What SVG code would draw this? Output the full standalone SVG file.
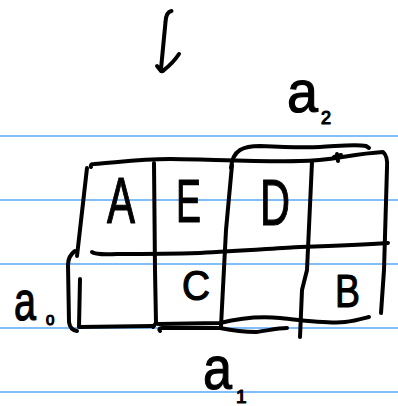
<svg xmlns="http://www.w3.org/2000/svg" width="398" height="406" viewBox="0 0 398 406">
<style>
.rule{stroke:#55a8f8;stroke-width:1.6}
.ink{fill:none;stroke:#000;stroke-width:4;stroke-linecap:round;stroke-linejoin:round}
.t{font-family:"Liberation Sans",Arial,sans-serif;fill:#000;stroke:#000;stroke-width:1.2;stroke-linejoin:round}
</style>
<rect width="398" height="406" fill="#fff"/>
<g id="paper">
<line class="rule" x1="0" y1="136" x2="398" y2="136"/>
<line class="rule" x1="0" y1="200" x2="398" y2="200"/>
<line class="rule" x1="0" y1="264" x2="398" y2="264"/>
<line class="rule" x1="0" y1="328" x2="398" y2="328"/>
<line class="rule" x1="0" y1="392" x2="398" y2="392"/>
</g>
<g id="arrow">
<path class="ink" d="M171.5,11 Q166,12 165.5,22 L161,69 Q161,73 164,70 Q173,63 179,54 M157,66 L161,71"/>
</g>
<g id="grid">
<path class="ink" d="M91,167 Q90,164 94,164 C120,162 140,159 170,159 C200,159 260,162 300,161 C330,161 350,154 383,152 Q388,156 387,168 L384,270 L381,313"/>
<path class="ink" d="M87,168 L77,256"/>
<path class="ink" d="M80,279 L79,327 L153,326"/>
<path class="ink" d="M154,163 L155,270 L156,323 L153,327"/>
<path class="ink" d="M232,165 L226,230 L221,326"/>
<path class="ink" d="M312,162 L307,270 L302,290 L300,337"/>
<path class="ink" d="M92,252 Q95,255 117,254 C140,254 166,254 200,253 C240,251 280,248 300,247 C330,246 360,245 388,243"/>
<path class="ink" d="M158,324 L220,323 C240,318 260,316 280,318 C300,320 330,324 345,322 C355,321 365,318 369,317"/>
</g>
<g id="brackets">
<path class="ink" d="M231,168 Q232,155 240,150 C245,147 250,146 260,146 C280,147 300,148 320,147 C340,146 355,144 366,146 L369,148"/>
<path class="ink" d="M334,157 L341,155 M337,154 L338,161"/>
<path class="ink" d="M160,331 Q158,328 162,328 L220,328 C230,330 245,332 256,332 C265,331 278,328 287,328"/>
<path class="ink" d="M75,251 Q68,256 68,265 L69,322 Q70,330 77,331"/>
</g>
<g id="cells">
<text id="cellA" class="t" x="107" y="223" font-size="64" textLength="28" lengthAdjust="spacingAndGlyphs">A</text>
<text id="cellE" class="t" x="176" y="222" font-size="62" textLength="25" lengthAdjust="spacingAndGlyphs">E</text>
<text id="cellD" class="t" x="260" y="225" font-size="64" textLength="30" lengthAdjust="spacingAndGlyphs">D</text>
<text id="cellC" class="t" x="182" y="300" font-size="42" textLength="28" lengthAdjust="spacingAndGlyphs">C</text>
<text id="cellB" class="t" x="335" y="307" font-size="47" textLength="25" lengthAdjust="spacingAndGlyphs">B</text>
</g>
<g id="labels">
<text id="a2" class="t" x="287" y="112" font-size="60" textLength="31" lengthAdjust="spacingAndGlyphs">a</text>
<text class="t" x="321" y="124" font-size="18">2</text>
<text id="a0" class="t" x="14" y="320" font-size="56" textLength="22" lengthAdjust="spacingAndGlyphs">a</text>
<text class="t" x="46" y="325" font-size="15">0</text>
<text id="a1" class="t" x="203" y="389" font-size="62" textLength="29" lengthAdjust="spacingAndGlyphs">a</text>
<text class="t" x="236" y="403" font-size="19">1</text>
</g>
</svg>
